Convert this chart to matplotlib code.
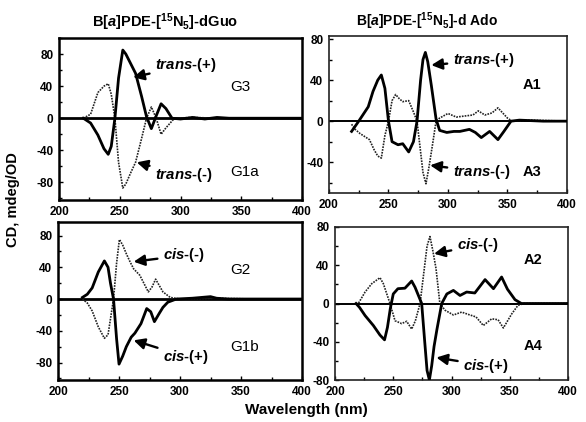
import matplotlib
matplotlib.use("Agg")
import matplotlib.pyplot as plt
from matplotlib.ticker import MultipleLocator

plt.rcParams['font.family'] = ['Liberation Sans', 'DejaVu Sans']
plt.rcParams['font.weight'] = 'bold'
plt.rcParams['axes.unicode_minus'] = False
plt.rcParams['mathtext.fontset'] = 'custom'
plt.rcParams['mathtext.rm'] = 'Liberation Sans:bold'
plt.rcParams['mathtext.bf'] = 'Liberation Sans:bold'
plt.rcParams['mathtext.it'] = 'Liberation Sans:italic:bold'

# ---- dGuo, trans pair (top left)
g3_wl = [220, 226, 232, 237, 240.5, 243, 246, 249, 252.5, 255, 259, 263, 268, 272, 276, 280, 284, 288, 293, 300, 310, 320, 330, 340, 360, 400]
g3_cd = [0, -6, -21, -38, -45, -35, 0, 50, 85, 80, 68, 56, 27, 2, -13, 3, 18, 12, 0, -1, 1, -1, 1, 0, 0, 0]
g1a_wl = [220, 226, 232, 237, 240.5, 243, 246, 249, 252.5, 255, 259, 263, 268, 272, 276, 280, 284, 288, 295, 310, 330, 360, 400]
g1a_cd = [0, 5, 32, 40, 43, 30, 0, -55, -87, -82, -68, -55, -25, 0, 14, 0, -20, -12, 0, 1, 0, 0, 0]

# ---- dAdo, trans pair (top right)
a1_wl = [219, 222, 225, 229, 233, 237, 241, 244, 247, 250, 253, 258, 262, 267, 271, 274, 277, 279, 281, 283, 286, 290, 293, 299, 305, 310, 318, 323, 328, 335, 342, 347, 353, 360, 380, 400]
a1_cd = [-10, -5, 0, 7, 14, 29, 40, 45, 32, 0, -20, -23, -22, -30, -20, 0, 40, 60, 67, 58, 35, 2, -9, -11, -10, -10, -8, -11, -16, -10, -18, -10, 0, 1, 0, 0]
a3_wl = [219, 222, 226, 230, 234, 238, 241, 244, 247, 250, 253, 256, 259, 262, 267, 271, 274, 277, 279, 281.5, 284, 287, 290, 293, 300, 307, 314, 321, 325.5, 331, 337, 342, 350, 354, 370, 400]
a3_cd = [-3, -8, -12, -15, -18, -28, -34, -36, -14, 0, 20, 26, 22, 19, 20, 9, 0, -30, -50, -61, -45, -23, 0, 3, 7.5, 4, 5, 6, 10, 6, 8, 13, 3, 0, 1, 0]

# ---- dGuo, cis pair (bottom left)
g1b_wl = [220, 224, 228, 233, 238, 241, 243, 245.5, 248, 250, 253, 256, 260, 263, 268, 272.7, 276, 279, 283, 286, 290, 297, 310, 325, 330, 340, 360, 400]
g1b_cd = [2, 6, 14, 34, 48, 40, 20, 0, -50, -82, -72, -60, -48, -43, -31, -12, -16, -28.5, -18, -10.5, -4, 0, 1, 3, 1, 0, 0, 0]
g2_wl = [220, 224, 228, 233, 238, 241, 243, 245.5, 248, 250.3, 253, 256, 259, 262, 267, 271, 274, 277, 280, 283, 286, 292, 300, 330, 360, 400]
g2_cd = [0, -5, -15, -35, -49.5, -45, -25, 0, 45, 75, 68, 57, 47, 38, 30, 18, 9, 15, 25, 17, 9, 2, 0, 1, 0, 0]

# ---- dAdo, cis pair (bottom right)
a4_wl = [218, 221, 225.8, 232.9, 238.6, 242.5, 245, 247.5, 250, 254, 260, 265.8, 268.7, 274.4, 277, 279, 281, 283, 285, 287.5, 291.6, 296, 301.6, 307.3, 313, 320, 328.8, 336, 343, 348, 354.5, 360, 380, 400]
a4_cd = [0, -4, -12.6, -23, -33, -38, -25, -5, 10, 15.5, 16, 23.5, 17, 0, -40, -70, -80, -65, -45, -27, 0, 10, 13.7, 8.4, 12, 11, 25, 15.5, 27.7, 15, 4, 0, 0, 0]
a2_wl = [218, 220, 225.8, 231.5, 238.6, 241.5, 247.2, 251.5, 257.2, 261.5, 265.8, 269, 273, 277, 279, 281.5, 284, 286.7, 290, 294.4, 301.6, 308.7, 315.8, 321, 327.3, 334.5, 340, 344.5, 351.6, 357, 362, 400]
a2_cd = [0, 0, 12, 20.7, 27, 20.7, 0, -18, -21, -18.6, -26.7, -18, 0, 40, 60, 70, 55, 36.5, 0, -7, -12, -9, -12, -14, -23, -16, -17, -25.6, -11, -2, 0, 0]

fig = plt.figure(figsize=(5.86, 4.22), dpi=100)
ax_tl = fig.add_axes([0.1007, 0.526, 0.4147, 0.3839])
ax_tr = fig.add_axes([0.5614, 0.5427, 0.4061, 0.372])
ax_bl = fig.add_axes([0.099, 0.0995, 0.4164, 0.3744])
ax_br = fig.add_axes([0.5717, 0.0995, 0.3976, 0.3626])

panels = [
    (ax_tl, (-102, 100), g3_wl, g3_cd, g1a_wl, g1a_cd, 1.8),
    (ax_tr, (-70, 83), a1_wl, a1_cd, a3_wl, a3_cd, 1.2),
    (ax_bl, (-102, 97), g1b_wl, g1b_cd, g2_wl, g2_cd, 1.8),
    (ax_br, (-80, 80), a4_wl, a4_cd, a2_wl, a2_cd, 1.2),
]
for ax, ylim, sx, sy, dx, dy, fw in panels:
    ax.axhline(0, color='black', lw=fw + 0.2, zorder=1)
    ax.plot(dx, dy, color='#222222', lw=1.2, ls=(0, (1, 0.7)), zorder=2)
    ax.plot(sx, sy, color='black', lw=2.0, zorder=3)
    ax.set_xlim(200, 400)
    ax.set_ylim(*ylim)
    ax.xaxis.set_major_locator(MultipleLocator(50))
    ax.xaxis.set_minor_locator(MultipleLocator(25))
    ax.yaxis.set_major_locator(MultipleLocator(40))
    ax.yaxis.set_minor_locator(MultipleLocator(20))
    ax.tick_params(which='both', direction='in', labelsize=8.5, width=1, pad=4)
    ax.tick_params(which='major', length=3)
    ax.tick_params(which='minor', length=2)
    for sp in ax.spines.values():
        sp.set_linewidth(fw)
        sp.set_color('black' if fw > 1.5 else '#222222')
    for lab in ax.get_xticklabels() + ax.get_yticklabels():
        lab.set_fontweight('bold')

arrow = dict(arrowstyle='-|>,head_length=0.6,head_width=0.3', color='black',
             lw=1.7, shrinkA=2, shrinkB=0)
ann_fs = 10.8

ax_tl.annotate(r'$\mathit{trans}$-(+)', xy=(261, 51), xytext=(279, 66), ha='left', va='center', fontsize=ann_fs, arrowprops=arrow)
ax_tl.annotate(r'$\mathit{trans}$-(-)', xy=(264, -55), xytext=(279, -71), ha='left', va='center', fontsize=ann_fs, arrowprops=arrow)
ax_tl.text(341, 39, 'G3', fontsize=11, fontweight='normal', va='center')
ax_tl.text(341, -67, 'G1a', fontsize=11, fontweight='normal', va='center')

ax_tr.annotate(r'$\mathit{trans}$-(+)', xy=(286, 54.6), xytext=(304, 59.5), ha='left', va='center', fontsize=ann_fs, arrowprops=arrow)
ax_tr.annotate(r'$\mathit{trans}$-(-)', xy=(285, -43), xytext=(304, -49.5), ha='left', va='center', fontsize=ann_fs, arrowprops=arrow)
ax_tr.text(363, 35, 'A1', fontsize=10.5, va='center')
ax_tr.text(363, -49.5, 'A3', fontsize=10.5, va='center')

ax_bl.annotate(r'$\mathit{cis}$-(-)', xy=(262, 47), xytext=(286, 55), ha='left', va='center', fontsize=ann_fs, arrowprops=arrow)
ax_bl.annotate(r'$\mathit{cis}$-(+)', xy=(262, -52), xytext=(286, -72.6), ha='left', va='center', fontsize=ann_fs, arrowprops=arrow)
ax_bl.text(341, 36.5, 'G2', fontsize=11, fontweight='normal', va='center')
ax_bl.text(341, -60, 'G1b', fontsize=11, fontweight='normal', va='center')

ax_br.annotate(r'$\mathit{cis}$-(-)', xy=(285, 52), xytext=(304.5, 61), ha='left', va='center', fontsize=ann_fs, arrowprops=arrow)
ax_br.annotate(r'$\mathit{cis}$-(+)', xy=(287, -56.5), xytext=(310, -65), ha='left', va='center', fontsize=ann_fs, arrowprops=arrow)
ax_br.text(361.6, 45, 'A2', fontsize=10.5, va='center')
ax_br.text(361.6, -44, 'A4', fontsize=10.5, va='center')

fig.text(0.2816, 0.948, r'B[$\mathit{a}$]PDE-[$^{15}$N$_{5}$]-dGuo', ha='center', va='center', fontsize=10.5)
fig.text(0.728, 0.949, r'B[$\mathit{a}$]PDE-[$^{15}$N$_{5}$]-d Ado', ha='center', va='center', fontsize=10)
fig.text(0.022, 0.526, 'CD, mdeg/OD', rotation=90, ha='center', va='center', fontsize=10.5)
fig.text(0.522, 0.028, 'Wavelength (nm)', ha='center', va='center', fontsize=11)

fig.savefig('out.png', dpi=100)
